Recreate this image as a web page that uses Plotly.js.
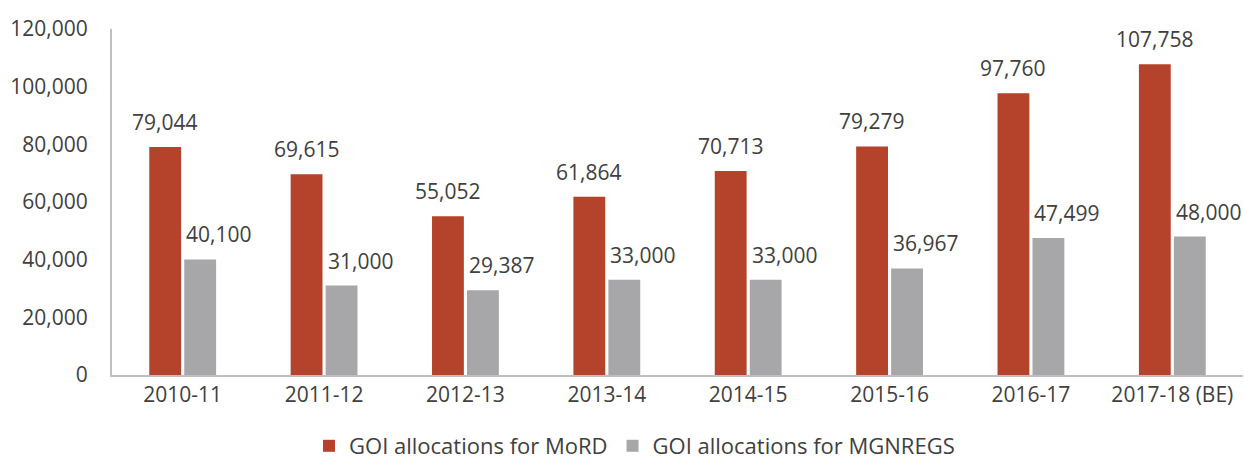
<!DOCTYPE html>
<html>
<head>
<meta charset="utf-8">
<script src="https://cdn.plot.ly/plotly-3.0.1.min.js"></script>
<style>html,body{margin:0;padding:0;background:#fff;}#chart{width:1245px;height:459px;}</style>
</head>
<body>
<div id="chart"></div>
<script>
const categories = ["2010-11","2011-12","2012-13","2013-14","2014-15","2015-16","2016-17","2017-18 (BE)"];
const mordValues = [79044, 69615, 55052, 61864, 70713, 79279, 97760, 107758];
const mgnregsValues = [40100, 31000, 29387, 33000, 33000, 36967, 47499, 48000];
const seriesNames = ["GOI allocations for MoRD", "GOI allocations for MGNREGS"];
const yTicks = [0, 20000, 40000, 60000, 80000, 100000, 120000];

const fontFamily = "'Open Sans', 'Noto Sans', sans-serif";
const textColor = "#404040";
const fmt = v => v.toLocaleString("en-US");

const traces = [
  {type:"bar", name:seriesNames[0], x:categories, y:mordValues,
   marker:{color:"#B5422A"}, hoverinfo:"none"},
  {type:"bar", name:seriesNames[1], x:categories, y:mgnregsValues,
   marker:{color:"#A7A7AA"}, hoverinfo:"none"}
];

const labelFont = {family:fontFamily,size:21,color:textColor};
const annotations = [].concat(
  categories.map((c, i) => ({
    x: c, y: mordValues[i], xref:"x", yref:"y", text: fmt(mordValues[i]),
    showarrow:false, xanchor:"center", yanchor:"bottom", xshift:-18, yshift:9, font:labelFont
  })),
  categories.map((c, i) => ({
    x: c, y: mgnregsValues[i], xref:"x", yref:"y", text: fmt(mgnregsValues[i]),
    showarrow:false, xanchor:"center", yanchor:"bottom", xshift:36, yshift:9, font:labelFont
  }))
);

const layout = {
  width:1245, height:459,
  margin:{l:112, r:2, t:29, b:84, autoexpand:false},
  paper_bgcolor:"#fff", plot_bgcolor:"#fff",
  font:{family:fontFamily, size:21, color:textColor},
  barmode:"group", bargap:0.505, bargroupgap:0.09,
  showlegend:true,
  annotations: annotations,
  legend:{orientation:"h", x:0.462, xanchor:"center", xref:"paper",
          y:13/459, yref:"container", yanchor:"middle",
          font:{family:fontFamily,size:22,color:textColor}, itemwidth:30, traceorder:"normal"},
  xaxis:{type:"category", showline:true, linecolor:"#BFBFBF", linewidth:2, ticks:"",
         automargin:false,
         tickfont:{family:fontFamily,size:21,color:textColor}, showgrid:false, zeroline:false},
  yaxis:{range:[0,120000], tickvals:yTicks, ticktext:yTicks.map(fmt), showline:true,
         automargin:false,
         linecolor:"#BFBFBF", linewidth:2, showgrid:false, zeroline:false, ticks:"",
         ticklabelstandoff:18,
         tickfont:{family:fontFamily,size:21,color:textColor}}
};

Plotly.newPlot("chart", traces, layout, {displayModeBar:false, staticPlot:true});
</script>
</body>
</html>
